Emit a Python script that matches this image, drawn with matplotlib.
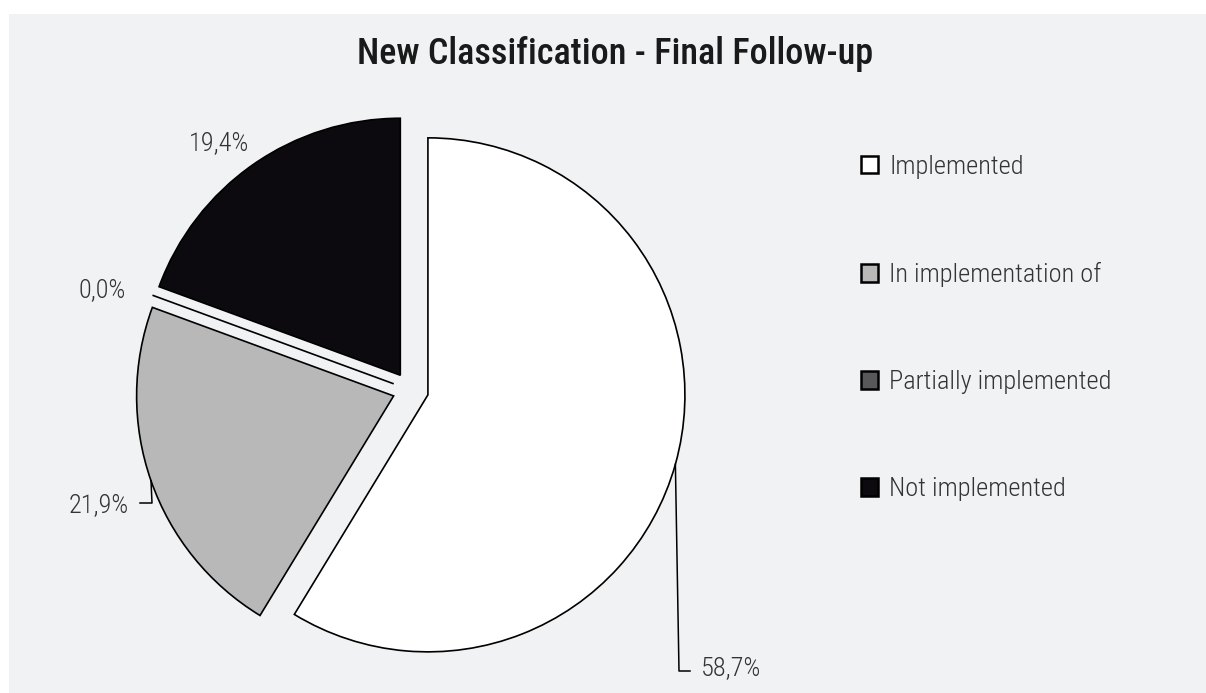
import numpy as np
import matplotlib
matplotlib.use("Agg")
import matplotlib.pyplot as plt
from matplotlib.patches import Rectangle

plt.rcParams['font.family'] = ['Roboto Condensed', 'Archivo Narrow', 'DejaVu Sans']

# data
categories = ["Implemented", "In implementation of", "Partially implemented", "Not implemented"]
shares = [58.7, 21.9, 0.0, 19.4]
colors = ["#ffffff", "#b7b8b7", "#58585a", "#0c0a0e"]

W, H = 1206, 693
R = 257.0            # pie radius in pixels
cx, cy = 410.6, 390  # pie centre in pixels (y from top)

fig = plt.figure(figsize=(W / 100, H / 100), dpi=100, facecolor="white")

# light grey panel behind everything
fig.patches.append(Rectangle((9 / W, 0), 1, (H - 14) / H, transform=fig.transFigure,
                             facecolor="#f1f2f4", edgecolor="none", zorder=-1))

ax = fig.add_axes([0, 0, 1, 1])
ax.set_facecolor("none")

wedges, _ = ax.pie(shares, colors=colors, startangle=90, counterclock=False,
                   explode=[0.07] * 4, radius=1,
                   wedgeprops=dict(edgecolor="black", linewidth=1.2))

# pie() resets the limits, so set them afterwards: 1 unit = R pixels
ax.set_aspect("auto")
ax.set_xlim(-cx / R, (W - cx) / R)
ax.set_ylim(-(H - cy) / R, cy / R)
ax.axis("off")


def px(x, y):
    # pixel position -> data coords
    return (x - cx) / R, (cy - y) / R


def arc_mid(w):
    a = np.deg2rad((w.theta1 + w.theta2) / 2)
    return w.center[0] + w.r * np.cos(a), w.center[1] + w.r * np.sin(a)


txt = dict(color="#333333", fontsize=19, fontweight=300)
lbl = [f"{v:.1f}".replace(".", ",") + "%" for v in shares]

# 58,7% with leader
mx, my = arc_mid(wedges[0])
ex, ey = px(679, 671)
hx, _ = px(690, 671)
ax.plot([mx, ex, hx], [my, ey, ey], color="black", lw=1.1)
tx, ty = px(701, 668)
ax.text(tx, ty, lbl[0], ha="left", va="center", **txt)

# 21,9% with leader
mx, my = arc_mid(wedges[1])
ex, ey = px(152, 503)
hx, _ = px(140, 503)
ax.plot([mx, ex, hx], [my, ey, ey], color="black", lw=1.1)
tx, ty = px(129, 505)
ax.text(tx, ty, lbl[1], ha="right", va="center", **txt)

tx, ty = px(102, 290)
ax.text(tx, ty, lbl[2], ha="center", va="center", **txt)
tx, ty = px(219.5, 143)
ax.text(tx, ty, lbl[3], ha="center", va="center", **txt)

fig.text(615 / W, 1 - 64 / H, "New Classification - Final Follow-up",
         ha="center", va="baseline", fontsize=26, fontweight=500, color="#1a1a1a")

leg = ax.legend(wedges, categories, loc="upper left",
                bbox_to_anchor=(837 / W, 1 - 131 / H), bbox_transform=fig.transFigure,
                frameon=False, labelspacing=3.15,
                prop=dict(size=19, weight=300),
                handlelength=0.66, handleheight=0.66, handletextpad=0.42,
                labelcolor="#333333")
for h in leg.legend_handles:
    h.set_linewidth(1.8)

fig.savefig("out.png", dpi=100, facecolor="white")
